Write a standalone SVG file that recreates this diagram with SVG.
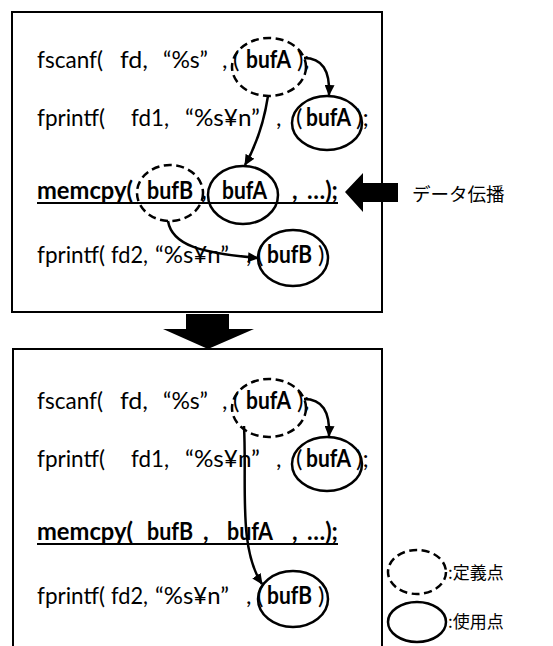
<svg xmlns="http://www.w3.org/2000/svg" width="553" height="646" viewBox="0 0 553 646">
  <defs>
    <marker id="arrow" markerUnits="userSpaceOnUse" markerWidth="11" markerHeight="10" refX="10" refY="5" orient="auto">
      <path d="M0,0 L11,5 L0,10 z" fill="#000"/>
    </marker>
    <style>
      .code { font-family: Lato, "Liberation Sans", sans-serif; font-size: 24px; fill: #000; white-space: pre; }
      .bold { font-weight: bold; }
      .jp { font-family: "Noto Sans CJK JP", "Noto Sans", sans-serif; fill: #000; }
      .frame { fill: #fff; stroke: #000; stroke-width: 2; }
      .def { fill: none; stroke: #000; stroke-width: 2.5; stroke-dasharray: 8 4.5; }
      .use { fill: none; stroke: #000; stroke-width: 2.5; }
      .link { fill: none; stroke: #000; stroke-width: 2.5; marker-end: url(#arrow); }
      .uline { stroke: #000; stroke-width: 2; }
    </style>
  </defs>
  <rect width="553" height="646" fill="#fff"/>

  <!-- upper panel: code before propagation -->
  <g id="panel-before">
    <rect class="frame" x="12" y="12" width="370" height="300"/>
    <g id="before-line1" class="code">
      <text x="37" y="68" textLength="66" lengthAdjust="spacingAndGlyphs">fscanf(</text>
      <text x="120" y="68" textLength="28" lengthAdjust="spacingAndGlyphs">fd,</text>
      <text x="163" y="68" textLength="45" lengthAdjust="spacingAndGlyphs">“%s”</text>
      <text x="222" y="68">,</text>
      <text x="233" y="68">(</text>
      <text class="bold" x="246" y="68" textLength="45" lengthAdjust="spacingAndGlyphs">bufA</text>
      <text x="297" y="68">);</text>
    </g>
    <g id="before-line2" class="code">
      <text x="37" y="126" textLength="68" lengthAdjust="spacingAndGlyphs">fprintf(</text>
      <text x="131" y="126" textLength="38" lengthAdjust="spacingAndGlyphs">fd1,</text>
      <text x="185" y="126" textLength="75" lengthAdjust="spacingAndGlyphs">“%s¥n”</text>
      <text x="276" y="126">,</text>
      <text x="296" y="126">(</text>
      <text class="bold" x="306" y="126" textLength="45" lengthAdjust="spacingAndGlyphs">bufA</text>
      <text x="356" y="126">);</text>
    </g>
    <g id="before-line3" class="code bold">
      <text x="37" y="199" textLength="96" lengthAdjust="spacingAndGlyphs">memcpy(</text>
      <text x="147" y="199" textLength="46" lengthAdjust="spacingAndGlyphs">bufB</text>
      <text x="201" y="199">,</text>
      <text x="222" y="199" textLength="45" lengthAdjust="spacingAndGlyphs">bufA</text>
      <text x="292" y="199">,</text>
      <text x="307" y="199" textLength="31" lengthAdjust="spacingAndGlyphs">…);</text>
      <line class="uline" x1="37" y1="203" x2="338" y2="203"/>
    </g>
    <g id="before-line4" class="code">
      <text x="37" y="263" textLength="68" lengthAdjust="spacingAndGlyphs">fprintf(</text>
      <text x="111" y="263" textLength="37" lengthAdjust="spacingAndGlyphs">fd2,</text>
      <text x="155" y="263" textLength="74" lengthAdjust="spacingAndGlyphs">“%s¥n”</text>
      <text x="246" y="263">,</text>
      <text x="257" y="263">(</text>
      <text class="bold" x="267" y="263" textLength="45" lengthAdjust="spacingAndGlyphs">bufB</text>
      <text x="318" y="263">)</text>
    </g>
    <ellipse id="b-def-bufA" class="def" cx="269" cy="67" rx="37" ry="29"/>
    <ellipse id="b-use-bufA-1" class="use" cx="327" cy="123" rx="35" ry="27"/>
    <ellipse id="b-def-bufB" class="def" cx="170" cy="193" rx="33" ry="28"/>
    <ellipse id="b-use-bufA-2" class="use" cx="243" cy="195" rx="35" ry="29"/>
    <ellipse id="b-use-bufB" class="use" cx="293" cy="258" rx="35" ry="28"/>
  </g>

  <!-- propagation marker and label -->
  <g id="propagation">
    <polygon points="345,192 363,173 363,183 398,183 398,202 363,202 363,212" fill="#000"/>
    <text class="jp" x="412" y="201" font-size="18.5">データ伝播</text>
  </g>

  <!-- transition arrow between panels -->
  <g id="transition">
    <polygon points="186,314 229,314 229,329 254,329 208,349 163,329 186,329" fill="#000"/>
  </g>

  <!-- lower panel: code after propagation -->
  <g id="panel-after">
    <rect class="frame" x="13" y="349" width="369" height="320"/>
    <g id="after-line1" class="code">
      <text x="37" y="409" textLength="66" lengthAdjust="spacingAndGlyphs">fscanf(</text>
      <text x="120" y="409" textLength="28" lengthAdjust="spacingAndGlyphs">fd,</text>
      <text x="163" y="409" textLength="45" lengthAdjust="spacingAndGlyphs">“%s”</text>
      <text x="222" y="409">,</text>
      <text x="233" y="409">(</text>
      <text class="bold" x="246" y="409" textLength="45" lengthAdjust="spacingAndGlyphs">bufA</text>
      <text x="297" y="409">);</text>
    </g>
    <g id="after-line2" class="code">
      <text x="37" y="467" textLength="68" lengthAdjust="spacingAndGlyphs">fprintf(</text>
      <text x="131" y="467" textLength="38" lengthAdjust="spacingAndGlyphs">fd1,</text>
      <text x="185" y="467" textLength="75" lengthAdjust="spacingAndGlyphs">“%s¥n”</text>
      <text x="276" y="467">,</text>
      <text x="296" y="467">(</text>
      <text class="bold" x="306" y="467" textLength="45" lengthAdjust="spacingAndGlyphs">bufA</text>
      <text x="356" y="467">);</text>
    </g>
    <g id="after-line3" class="code bold">
      <text x="37" y="540" textLength="96" lengthAdjust="spacingAndGlyphs">memcpy(</text>
      <text x="147" y="540" textLength="46" lengthAdjust="spacingAndGlyphs">bufB</text>
      <text x="203" y="540">,</text>
      <text x="227" y="540" textLength="46" lengthAdjust="spacingAndGlyphs">bufA</text>
      <text x="292" y="540">,</text>
      <text x="307" y="540" textLength="31" lengthAdjust="spacingAndGlyphs">…);</text>
      <line class="uline" x1="37" y1="544" x2="338" y2="544"/>
    </g>
    <g id="after-line4" class="code">
      <text x="37" y="604" textLength="68" lengthAdjust="spacingAndGlyphs">fprintf(</text>
      <text x="111" y="604" textLength="37" lengthAdjust="spacingAndGlyphs">fd2,</text>
      <text x="155" y="604" textLength="74" lengthAdjust="spacingAndGlyphs">“%s¥n”</text>
      <text x="246" y="604">,</text>
      <text x="257" y="604">(</text>
      <text class="bold" x="267" y="604" textLength="45" lengthAdjust="spacingAndGlyphs">bufB</text>
      <text x="318" y="604">)</text>
    </g>
    <ellipse id="a-def-bufA" class="def" cx="269" cy="408" rx="37" ry="29"/>
    <ellipse id="a-use-bufA" class="use" cx="327" cy="464" rx="35" ry="27"/>
    <ellipse id="a-use-bufB" class="use" cx="293" cy="599" rx="35" ry="28"/>
  </g>

  <!-- def-use connectors -->
  <g id="connectors">
    <path class="link" d="M304,58 Q331,58 329,95"/>
    <path class="link" d="M268,96 Q262,135 245,165"/>
    <path class="link" d="M168,221 C172,245 200,253 258,258"/>
    <path class="link" d="M304,399 Q331,399 329,436"/>
    <path class="link" d="M244,426 C247,485 238,548 262,584"/>
  </g>

  <!-- legend -->
  <g id="legend-def">
    <ellipse class="def" cx="417" cy="572" rx="29" ry="22"/>
    <text class="jp" x="448" y="579" font-size="17">:定義点</text>
  </g>
  <g id="legend-use">
    <ellipse class="use" cx="417" cy="622" rx="29" ry="20"/>
    <text class="jp" x="448" y="628" font-size="17">:使用点</text>
  </g>
</svg>
